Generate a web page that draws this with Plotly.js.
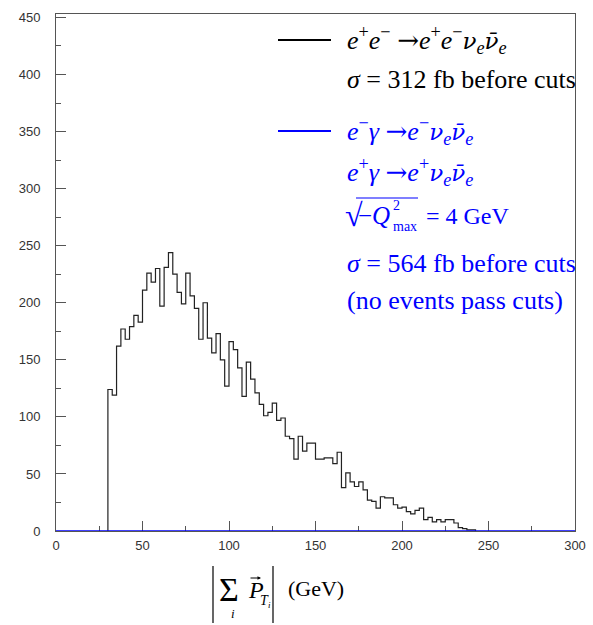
<!DOCTYPE html>
<html>
<head>
<meta charset="utf-8">
<script src="https://cdn.plot.ly/plotly-3.0.1.min.js"></script>
<style>
  html, body { margin: 0; padding: 0; background: #ffffff; }
  #chart { width: 593px; height: 625px; }
</style>
</head>
<body>
<div id="chart"></div>
<script>
// Histogram binning of |sum p_T| (GeV)
const binLow = 30;
const binWidth = 2.5;

// e+e- -> e+e- nu_e nubar_e : events per 2.5 GeV bin, starting at 30 GeV
const eeCounts = [
  124, 119, 162, 177, 168, 179, 189, 183, 211, 226,
  218, 230, 197, 231, 244, 225, 209, 199, 226, 206,
  195, 168, 200, 169, 156, 173, 150, 127, 166, 159,
  143, 118, 148, 133, 121, 111, 101, 104, 112,  97,
   99,  83,  81,  63,  83,  70,  77,  77,  63,  63,
   64,  64,  59,  69,  38,  51,  43,  39,  43,  36,
   27,  26,  20,  30,  29,  29,  23,  20,  21,  17,
   15,  18,  20,  10,  12,   8,  10,   8,  10,  10,
    7,   3,   2,   1,   1
];

// e gamma -> e nu_e nubar_e : no events pass the cuts anywhere on the axis
const egEdges = [0, 300];
const egCounts = [0];

// Axis ticks
const xTicks = [0, 50, 100, 150, 200, 250, 300];
const yTicks = [0, 50, 100, 150, 200, 250, 300, 350, 400, 450];

// Step outline of a histogram from its bin edges and counts
function stepLine(edges, counts) {
  const x = [edges[0]], y = [0];
  for (let i = 0; i < counts.length; i++) { x.push(edges[i]); y.push(counts[i]); }
  x.push(edges[counts.length]); y.push(0);
  return { x, y };
}

const eeEdges = [];
for (let i = 0; i <= eeCounts.length; i++) eeEdges.push(binLow + i * binWidth);
const eeStep = stepLine(eeEdges, eeCounts);
const egStep = stepLine(egEdges, egCounts);

const BLUE = '#0000ff';
const SERIF = 'Liberation Serif, Times New Roman, serif';

// Frame geometry in pixels, used to place the text blocks
const L = 56, T = 14, W = 519, H = 517;
const fx = p => (p - L) / W;
const fy = p => (T + H - p) / H;

const traces = [
  { x: eeStep.x, y: eeStep.y, type: 'scatter', mode: 'lines',
    line: { shape: 'hv', color: '#222222', width: 1.2 }, hoverinfo: 'skip' },
  { x: egStep.x, y: egStep.y, type: 'scatter', mode: 'lines',
    line: { shape: 'hv', color: BLUE, width: 1.6 }, hoverinfo: 'skip' }
];

function txt(text, px, py, size, color, extra) {
  return Object.assign({
    text: text, xref: 'paper', yref: 'paper', x: fx(px), y: fy(py),
    xanchor: 'left', yanchor: 'middle', showarrow: false,
    font: { family: SERIF, size: size, color: color }
  }, extra || {});
}

// Greek neutrino symbols and the reaction arrow use DejaVu Serif for clean accents
const greek = s => '<span style="font-family:DejaVu Serif;font-size:23px">' + s + '</span>';
const nu = greek('<i>\u03BD</i>');
const nubar = greek('<i>\u03BD\u0304</i>');
const arrow = '<span style="font-family:DejaVu Serif">\u2192</span>';
const sub_e = '<sub><i>e</i></sub>';
const FS = 26;

const annotations = [
  // black process
  txt('<i>e</i><sup>+</sup><i>e</i><sup>\u2212</sup> ' + arrow + '<i>e</i><sup>+</sup><i>e</i><sup>\u2212</sup>' + nu + sub_e + nubar + sub_e, 345, 40, FS, '#000000'),
  txt('<i>\u03C3</i> = 312 fb before cuts', 345, 80, FS, '#000000'),
  // blue processes
  txt('<i>e</i><sup>\u2212</sup><i>\u03B3</i> ' + arrow + '<i>e</i><sup>\u2212</sup>' + nu + sub_e + nubar + sub_e, 345, 131, FS, BLUE),
  txt('<i>e</i><sup>+</sup><i>\u03B3</i> ' + arrow + '<i>e</i><sup>+</sup>' + nu + sub_e + nubar + sub_e, 345, 172, FS, BLUE),
  txt('\u221A', 343, 215, 32, BLUE),
  txt('\u2212<i>Q</i>', 356, 216, 25, BLUE),
  txt('2', 391, 205, 14, BLUE),
  txt('max', 391, 226, 14, BLUE),
  txt('= 4 GeV', 424, 216, 24, BLUE),
  txt('<i>\u03C3</i> = 564 fb before cuts', 345, 263, FS, BLUE),
  txt('(no events pass cuts)', 345, 300, FS, BLUE),
  // x-axis title: |sum_i P_T_i| (GeV)
  txt('\u03A3', 217, 589, 34, '#000000'),
  txt('<i>i</i>', 229, 613, 13, '#000000'),
  txt('<i>P</i>', 246, 590, 24, '#000000'),
  txt('<i>T</i>', 258, 600, 14, '#000000'),
  txt('<i>i</i>', 266, 605, 9, '#000000'),
  txt('(GeV)', 286, 588, 22, '#000000'),
  { text: '', xref: 'paper', yref: 'paper', x: fx(261), y: fy(578),
    ax: -12, ay: 0, showarrow: true, arrowhead: 2, arrowsize: 0.7,
    arrowwidth: 1, arrowcolor: '#000000' }
];

const shapes = [
  // legend keys
  { type: 'line', xref: 'paper', yref: 'paper', x0: fx(278), x1: fx(331), y0: fy(40), y1: fy(40),
    line: { color: '#000000', width: 2 } },
  { type: 'line', xref: 'paper', yref: 'paper', x0: fx(278), x1: fx(331), y0: fy(131), y1: fy(131),
    line: { color: BLUE, width: 2 } },
  // square-root bar
  { type: 'line', xref: 'paper', yref: 'paper', x0: fx(356), x1: fx(418), y0: fy(198), y1: fy(198),
    line: { color: BLUE, width: 1.2 } },
  // absolute-value bars of the x-axis title
  { type: 'line', xref: 'paper', yref: 'paper', x0: fx(213), x1: fx(213), y0: fy(566), y1: fy(623),
    line: { color: '#000000', width: 1.2 } },
  { type: 'line', xref: 'paper', yref: 'paper', x0: fx(273), x1: fx(273), y0: fy(566), y1: fy(623),
    line: { color: '#000000', width: 1.2 } }
];

const axisCommon = {
  showgrid: false, zeroline: false, showline: true, mirror: true,
  linecolor: '#555555', linewidth: 1,
  ticks: 'inside', ticklen: 10, tickwidth: 1, tickcolor: '#555555',
  tickfont: { family: 'Liberation Sans, Arial, sans-serif', size: 13, color: '#333333' },
  layer: 'below traces', fixedrange: true
};

const layout = {
  width: 593, height: 625,
  margin: { l: L, r: 593 - L - W, t: T, b: 625 - T - H },
  paper_bgcolor: '#ffffff', plot_bgcolor: '#ffffff',
  showlegend: false,
  xaxis: Object.assign({}, axisCommon, {
    range: [0, 300], tickmode: 'array', tickvals: xTicks, ticktext: xTicks.map(String),
    ticklabelstandoff: 2,
    minor: { ticks: 'inside', ticklen: 5, dtick: 25, tick0: 0, tickcolor: '#555555', showgrid: false }
  }),
  yaxis: Object.assign({}, axisCommon, {
    range: [0, 453], tickmode: 'array', tickvals: yTicks, ticktext: yTicks.map(String),
    ticklabelstandoff: 12,
    minor: { ticks: 'inside', ticklen: 5, dtick: 25, tick0: 0, tickcolor: '#555555', showgrid: false }
  }),
  annotations: annotations,
  shapes: shapes
};

Plotly.newPlot('chart', traces, layout, { staticPlot: true, displayModeBar: false });
</script>
</body>
</html>
